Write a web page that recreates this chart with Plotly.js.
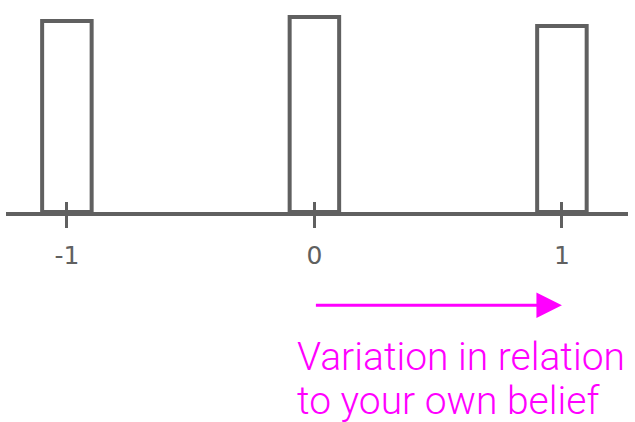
<!DOCTYPE html>
<html>
<head>
<meta charset="utf-8">
<script src="https://cdn.plot.ly/plotly-3.0.1.min.js"></script>
<style>html,body{margin:0;padding:0;background:#fff;}#chart{width:635px;height:422px;}</style>
</head>
<body>
<div id="chart"></div>
<script>
var categories = [-1, 0, 1];
var values = [0.979, 1.0, 0.954];
var tickLabels = ["-1", "0", "1"];
var arrowFrom = 0;
var arrowTo = 1;
var captionLines = ["Variation in relation", "to your own belief"];

var gray = "#606060";
var magenta = "#ff00ff";

var trace = {
  type: "bar",
  x: categories,
  y: values,
  width: 0.2,
  marker: {color: "rgba(0,0,0,0)", line: {color: gray, width: 4}},
  hoverinfo: "skip"
};
var tickOverlay = {
  type: "scatter", x: categories, y: [0, 0, 0], xaxis: "x2", mode: "markers",
  marker: {opacity: 0}, hoverinfo: "skip", showlegend: false
};

var captionTops = [-0.568, -0.772];
var annotations = [
  {
    xref: "x", yref: "paper", axref: "x", ayref: "paper",
    x: arrowTo, y: -0.44, ax: arrowFrom, ay: -0.44,
    text: "", showarrow: true, arrowhead: 2, arrowsize: 1.7, arrowwidth: 3,
    arrowcolor: magenta
  }
];
captionLines.forEach(function (line, i) {
  annotations.push({
    xref: "paper", yref: "paper", x: 0.465, y: captionTops[i], xanchor: "left", yanchor: "top",
    text: line, showarrow: false, align: "left",
    font: {family: "Roboto", size: 39, color: magenta, weight: 300}
  });
});

var layout = {
  width: 635, height: 422,
  margin: {l: 6, r: 7, t: 0, b: 210},
  paper_bgcolor: "#fff", plot_bgcolor: "rgba(0,0,0,0)",
  showlegend: false,
  xaxis: {
    range: [-1.246, 1.267],
    tickvals: categories, ticktext: tickLabels,
    showgrid: false, zeroline: false,
    showline: true, linecolor: gray, linewidth: 4,
    ticks: "outside", ticklen: 12, tickwidth: 3, tickcolor: gray,
    tickfont: {family: "DejaVu Sans", size: 25, color: gray},
    ticklabelstandoff: 6
  },
  xaxis2: {
    overlaying: "x", matches: "x", side: "bottom", anchor: "y",
    tickvals: categories, showticklabels: false,
    showgrid: false, zeroline: false, showline: false,
    ticks: "inside", ticklen: 10, tickwidth: 3, tickcolor: gray
  },
  yaxis: {range: [0, 1.087], visible: false, fixedrange: true},
  annotations: annotations
};

Plotly.newPlot("chart", [trace, tickOverlay], layout, {staticPlot: true, displayModeBar: false});
</script>
</body>
</html>
